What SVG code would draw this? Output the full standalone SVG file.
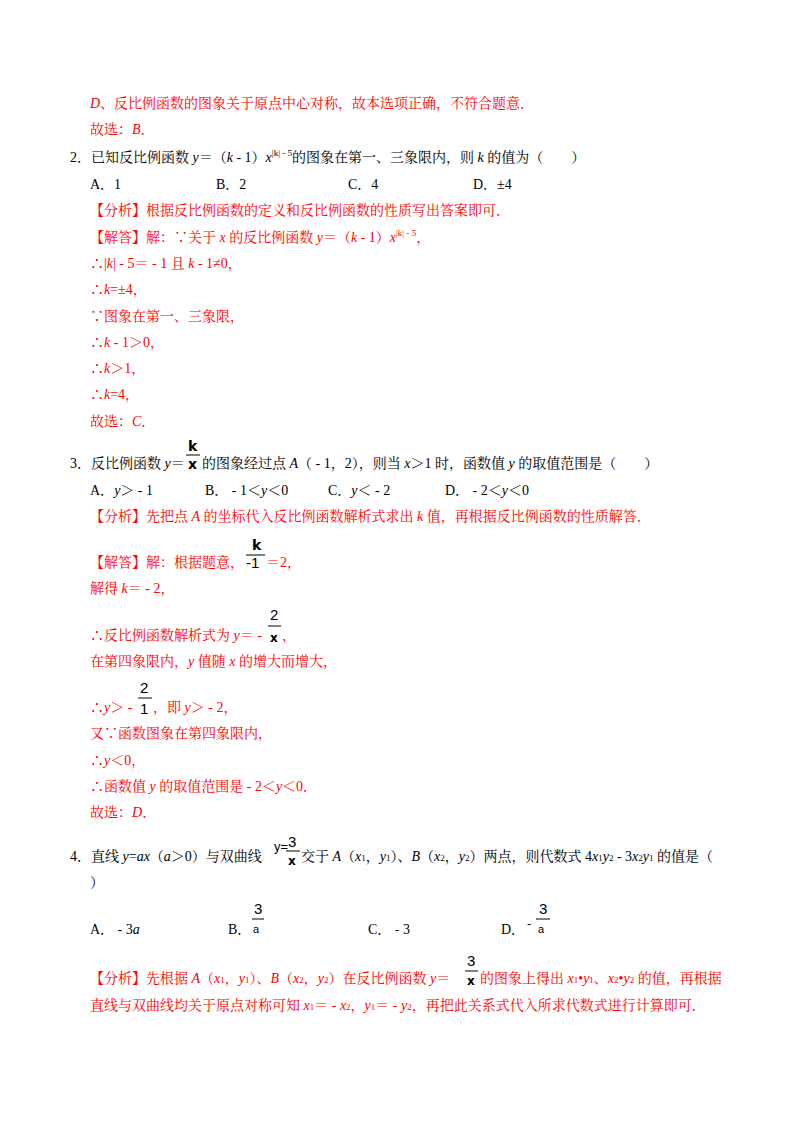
<svg xmlns="http://www.w3.org/2000/svg" width="800" height="1132" viewBox="0 0 800 1132">
<style>
text{font-family:"Liberation Serif","Noto Serif CJK SC","Noto Sans CJK SC",serif;font-size:14px;fill:#000}
.r{fill:#f00}
.i{font-style:italic}
.s{font-size:9px}
.f{font-family:"Liberation Sans","DejaVu Sans",sans-serif;font-size:13px}
.fb{font-family:"DejaVu Sans",sans-serif;font-size:14px;font-weight:bold}
line{stroke:#000;stroke-width:1}
.rl{stroke:#f00}
</style>
<rect width="800" height="1132" fill="#fff"/>
<g id="q1">
<text class="r" x="90" y="108"><tspan class="i">D</tspan>、反比例函数的图象关于原点中心对称，故本选项正确，不符合题意．</text>
<text class="r" x="90" y="134">故选：<tspan class="i">B</tspan>．</text>
</g>
<g id="q2">
<text x="70" y="162">2．已知反比例函数 <tspan class="i">y</tspan>＝（<tspan class="i">k</tspan> - 1）<tspan class="i">x</tspan><tspan class="s" dy="-6">|k| - 5</tspan><tspan dy="6">的图象在第一、三象限内，则 </tspan><tspan class="i">k</tspan> 的值为（　　）</text>
<text x="90" y="189">A．1</text><text x="216" y="189">B．2</text><text x="348" y="189">C．4</text><text x="473" y="189">D．±4</text>
<text class="r" x="90" y="215">【分析】根据反比例函数的定义和反比例函数的性质写出答案即可．</text>
<text class="r" x="90" y="242">【解答】解：∵关于 <tspan class="i">x</tspan> 的反比例函数 <tspan class="i">y</tspan>＝（<tspan class="i">k</tspan> - 1）<tspan class="i">x</tspan><tspan class="s" dy="-6">|k| - 5</tspan><tspan dy="6">，</tspan></text>
<text class="r" x="90" y="268">∴|<tspan class="i">k</tspan>| - 5＝ - 1 且 <tspan class="i">k</tspan> - 1≠0，</text>
<text class="r" x="90" y="294">∴<tspan class="i">k</tspan>=±4，</text>
<text class="r" x="90" y="321">∵图象在第一、三象限，</text>
<text class="r" x="90" y="347">∴<tspan class="i">k</tspan> - 1＞0，</text>
<text class="r" x="90" y="373">∴<tspan class="i">k</tspan>＞1，</text>
<text class="r" x="90" y="399">∴<tspan class="i">k</tspan>=4，</text>
<text class="r" x="90" y="426">故选：<tspan class="i">C</tspan>．</text>
</g>
<g id="q3">
<text class="fb" x="188" y="451">k</text><line x1="186" y1="455" x2="200" y2="455"/><text class="fb" x="188" y="469">x</text>
<text x="70" y="468">3．反比例函数 <tspan class="i">y</tspan>＝</text>
<text x="202" y="468">的图象经过点 <tspan class="i">A</tspan>（ - 1，2），则当 <tspan class="i">x</tspan>＞1 时，函数值 <tspan class="i">y</tspan> 的取值范围是（　　）</text>
<text x="90" y="495">A．<tspan class="i">y</tspan>＞ - 1</text><text x="205" y="495">B． - 1＜<tspan class="i">y</tspan>＜0</text><text x="328" y="495">C．<tspan class="i">y</tspan>＜ - 2</text><text x="445" y="495">D． - 2＜<tspan class="i">y</tspan>＜0</text>
<text class="r" x="90" y="521">【分析】先把点 <tspan class="i">A</tspan> 的坐标代入反比例函数解析式求出 <tspan class="i">k</tspan> 值，再根据反比例函数的性质解答．</text>
<text class="fb" x="252" y="550">k</text><line x1="246" y1="555" x2="265" y2="555"/><text class="f" x="246" y="568" style="font-size:15px">-1</text>
<text class="r" x="90" y="567">【解答】解：根据题意，</text><text class="r" x="266" y="567">＝2，</text>
<text class="r" x="90" y="593">解得 <tspan class="i">k</tspan>＝ - 2，</text>
<text class="f" x="270" y="620" style="font-size:15px">2</text><line x1="268" y1="626" x2="281" y2="626"/><text class="fb" x="270" y="642" style="font-size:12px">x</text>
<text class="r" x="90" y="640">∴反比例函数解析式为 <tspan class="i">y</tspan>＝ - </text><text class="r" x="282" y="640">，</text>
<text class="r" x="90" y="666">在第四象限内，<tspan class="i">y</tspan> 值随 <tspan class="i">x</tspan> 的增大而增大，</text>
<text class="f" x="140" y="693" style="font-size:15px">2</text><line x1="138" y1="698" x2="152" y2="698"/><text class="f" x="140" y="714" style="font-size:15px">1</text>
<text class="r" x="90" y="712">∴<tspan class="i">y</tspan>＞ - </text><text class="r" x="153" y="712">，即 <tspan class="i">y</tspan>＞ - 2，</text>
<text class="r" x="90" y="738">又∵函数图象在第四象限内，</text>
<text class="r" x="90" y="765">∴<tspan class="i">y</tspan>＜0，</text>
<text class="r" x="90" y="791">∴函数值 <tspan class="i">y</tspan> 的取值范围是 - 2＜<tspan class="i">y</tspan>＜0．</text>
<text class="r" x="90" y="817">故选：<tspan class="i">D</tspan>．</text>
</g>
<g id="q4">
<text class="f" x="274" y="851">y=</text><text class="f" x="288" y="847" style="font-size:15px">3</text><line x1="286" y1="851" x2="300" y2="851"/><text class="fb" x="288" y="865" style="font-size:12px">x</text>
<text x="70" y="861">4．直线 <tspan class="i">y</tspan>=<tspan class="i">ax</tspan>（<tspan class="i">a</tspan>＞0）与双曲线</text>
<text x="301" y="861">交于 <tspan class="i">A</tspan>（<tspan class="i">x</tspan><tspan class="s">1</tspan>，<tspan class="i">y</tspan><tspan class="s">1</tspan>）、<tspan class="i">B</tspan>（<tspan class="i">x</tspan><tspan class="s">2</tspan>，<tspan class="i">y</tspan><tspan class="s">2</tspan>）两点，则代数式 4<tspan class="i">x</tspan><tspan class="s">1</tspan><tspan class="i">y</tspan><tspan class="s">2</tspan> - 3<tspan class="i">x</tspan><tspan class="s">2</tspan><tspan class="i">y</tspan><tspan class="s">1</tspan> 的值是（</text>
<text x="90" y="887">）</text>
<text x="90" y="934">A． - 3<tspan class="i">a</tspan></text>
<text x="228" y="934">B．</text><text class="f" x="254" y="914" style="font-size:15px">3</text><line x1="252" y1="919" x2="264" y2="919"/><text class="f" x="253" y="933" style="font-size:11px">a</text>
<text x="368" y="934">C． - 3</text>
<text x="501" y="934">D．</text><text class="f" x="527" y="928">-</text><text class="f" x="539" y="914" style="font-size:15px">3</text><line x1="536" y1="919" x2="550" y2="919"/><text class="f" x="538" y="933" style="font-size:11px">a</text>
<text class="f" x="467" y="966" style="font-size:15px">3</text><line x1="465" y1="971" x2="478" y2="971"/><text class="fb" x="467" y="985" style="font-size:12px">x</text>
<text class="r" x="90" y="983">【分析】先根据 <tspan class="i">A</tspan>（<tspan class="i">x</tspan><tspan class="s">1</tspan>，<tspan class="i">y</tspan><tspan class="s">1</tspan>）、<tspan class="i">B</tspan>（<tspan class="i">x</tspan><tspan class="s">2</tspan>，<tspan class="i">y</tspan><tspan class="s">2</tspan>）在反比例函数 <tspan class="i">y</tspan>＝</text>
<text class="r" x="480" y="983">的图象上得出 <tspan class="i">x</tspan><tspan class="s">1</tspan>•<tspan class="i">y</tspan><tspan class="s">1</tspan>、<tspan class="i">x</tspan><tspan class="s">2</tspan>•<tspan class="i">y</tspan><tspan class="s">2</tspan> 的值，再根据</text>
<text class="r" x="90" y="1010">直线与双曲线均关于原点对称可知 <tspan class="i">x</tspan><tspan class="s">1</tspan>＝ - <tspan class="i">x</tspan><tspan class="s">2</tspan>，<tspan class="i">y</tspan><tspan class="s">1</tspan>＝ - <tspan class="i">y</tspan><tspan class="s">2</tspan>，再把此关系式代入所求代数式进行计算即可．</text>
</g>
</svg>
